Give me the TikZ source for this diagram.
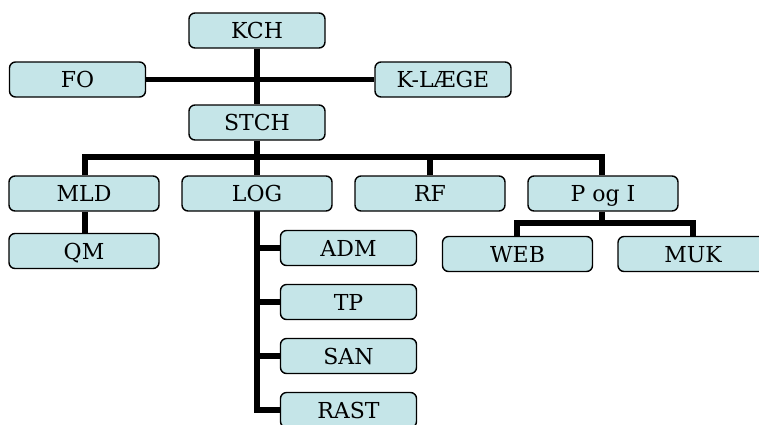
\documentclass[tikz,border=0pt]{standalone}
\usepackage{fontspec}
\setmainfont{DejaVu Serif}
\usetikzlibrary{backgrounds}
\definecolor{boxfill}{RGB}{197,229,232}
\tikzset{
  orgbox/.style={draw=black, line width=1.4pt, fill=boxfill, rounded corners=6pt,
    minimum height=35pt, inner sep=0pt, text depth=0pt, font=\fontsize{22}{26}\selectfont},
  narrow/.style={orgbox, minimum width=136pt},
  wide/.style={orgbox, minimum width=150pt},
  conn/.style={line width=5.2pt, black},
}
\begin{document}
\begin{tikzpicture}[x=1pt,y=-1pt]
\useasboundingbox (0,0) rectangle (759,424);
\clip (0,0) rectangle (759,424);
\coordinate (busL) at (85,157);
\coordinate (busM) at (257,157);
\coordinate (busR) at (602,157);
\coordinate (bus2M) at (602,223);
\coordinate (bus2L) at (517,223);
\coordinate (bus2R) at (693,223);

\node[narrow] (kch) at (257,30.5) {KCH};
\node[narrow] (fo) at (77.5,79.5) {FO};
\node[narrow] (klaege) at (443,79.5) {K-LÆGE};
\node[narrow] (stch) at (257,122.5) {STCH};
\node[wide] (mld) at (84,193.5) {MLD};
\node[wide] (log) at (257,193.5) {LOG};
\node[wide] (rf) at (430,193.5) {RF};
\node[wide] (pogi) at (603,193.5) {P og I};
\node[wide] (qm) at (84,251) {QM};
\node[wide] (web) at (517.5,254) {WEB};
\node[wide] (muk) at (693,254) {MUK};
\node[narrow] (adm) at (348.5,248) {ADM};
\node[narrow] (tp) at (348.5,302) {TP};
\node[narrow] (san) at (348.5,356) {SAN};
\node[narrow] (rast) at (348.5,410) {RAST};
\coordinate (logEnd) at (log.south |- rast.west);

\begin{pgfonlayer}{background}
\draw[conn] (fo.east) -- (klaege.west);
\draw[conn] (kch.south) -- (stch.north);
\draw[conn] (stch.south) -- (busM);
\draw[conn] (mld.north -| busL) -- (busL) -- (busR) -- (pogi.north -| busR);
\draw[conn] (busM) -- (log.north);
\draw[conn] (rf.north) -- (rf.north |- busL);
\draw[conn] (mld.south -| busL) -- (qm.north -| busL);
\draw[conn] (pogi.south -| bus2M) -- (bus2M);
\draw[conn] (web.north -| bus2L) -- (bus2L) -- (bus2R) -- (muk.north -| bus2R);
\draw[conn, line cap=rect] (log.south) -- (logEnd);
\draw[conn] (adm.west -| log.south) -- (adm.west);
\draw[conn] (tp.west -| log.south) -- (tp.west);
\draw[conn] (san.west -| log.south) -- (san.west);
\draw[conn] (logEnd) -- (rast.west);
\end{pgfonlayer}
\end{tikzpicture}
\end{document}
